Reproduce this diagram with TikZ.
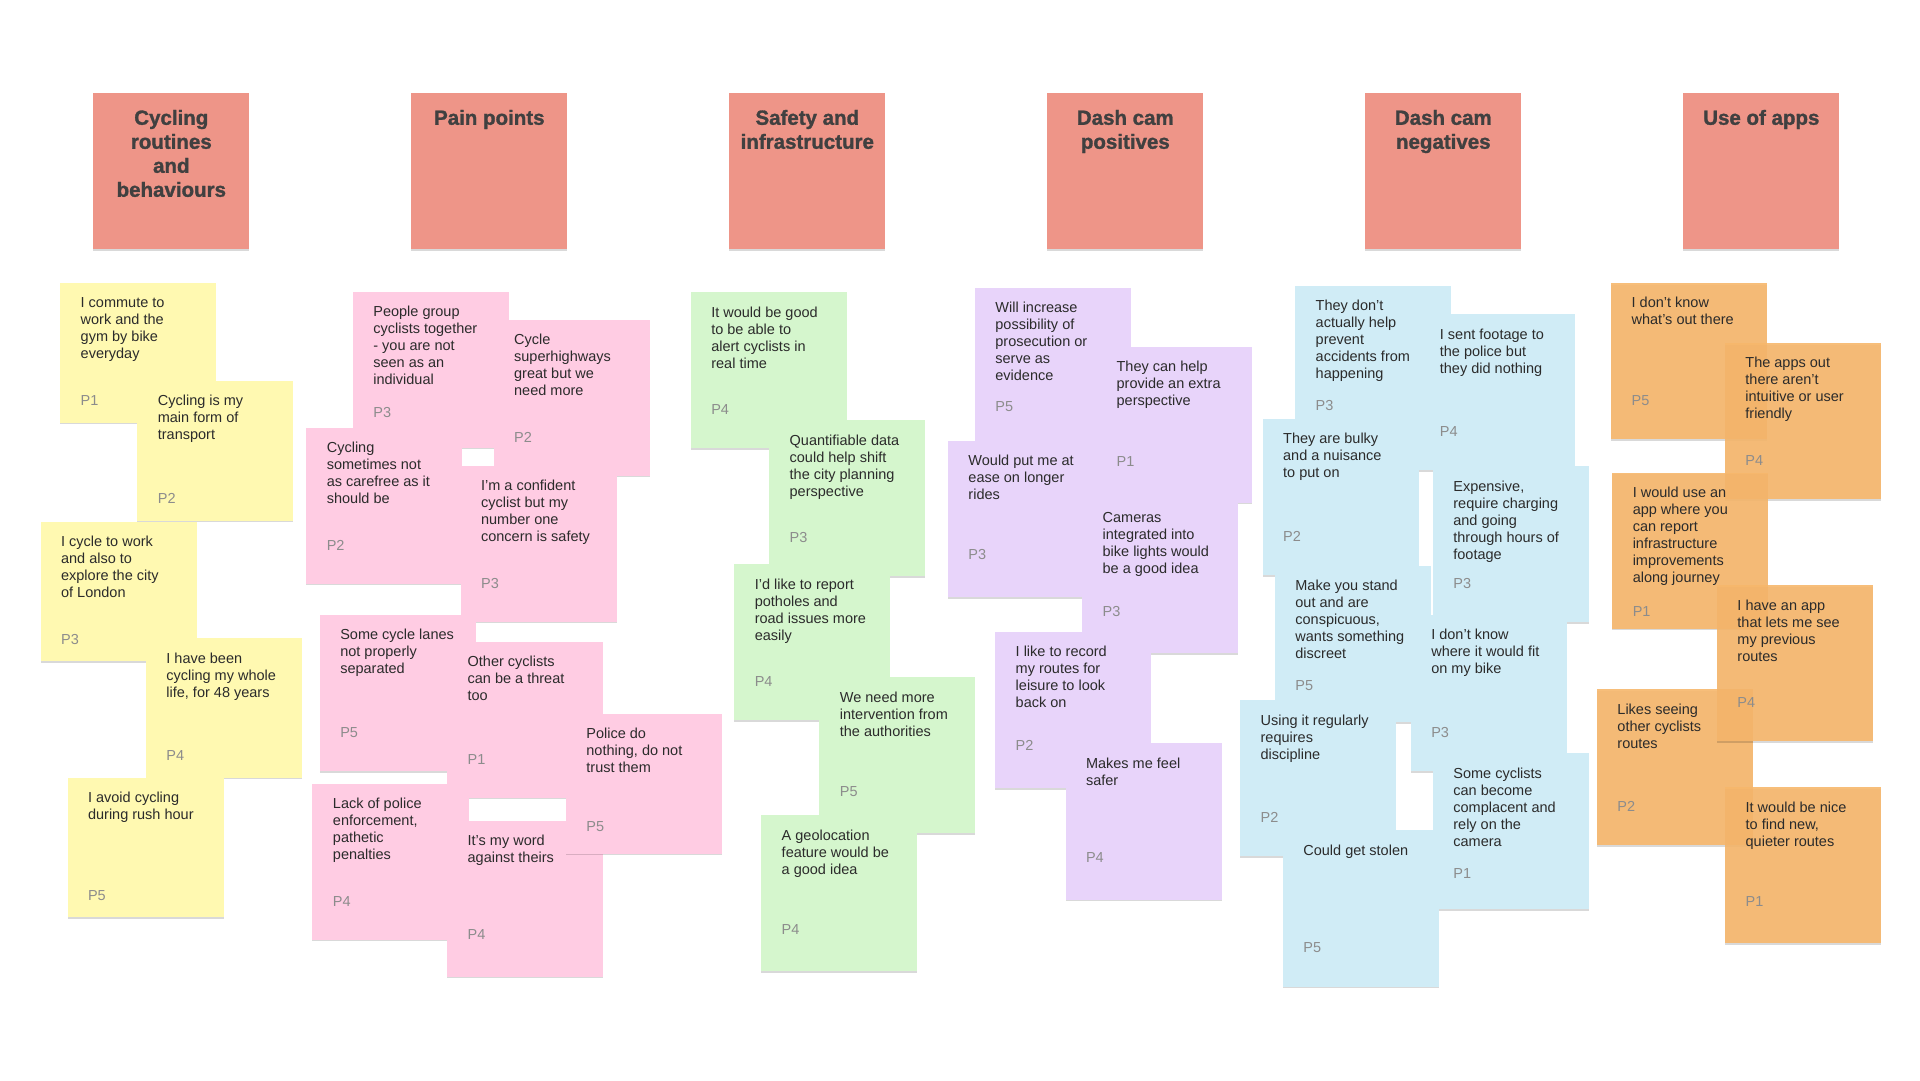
\documentclass[tikz,border=0pt]{standalone}
\usepackage{fontspec}
\setmainfont{Liberation Sans}
\newfontfamily\headfont{Liberation Sans}[UprightFont=*-Bold, UprightFeatures={FakeBold=1.4}]
\usepackage{tikz}
\usetikzlibrary{positioning, shadows}

\definecolor{headred}{HTML}{EE9588}
\definecolor{noteyellow}{HTML}{FFF9B1}
\definecolor{notepink}{HTML}{FFCCE3}
\definecolor{notegreen}{HTML}{D5F6CD}
\definecolor{notepurple}{HTML}{E8D4FA}
\definecolor{noteblue}{HTML}{D0ECF6}
\definecolor{noteorange}{HTML}{F7B76C}
\definecolor{ink}{HTML}{2B2B2B}

% one sticky: [tag offset]{name}{style}{x}{y}{text}{tag}
\newcommand{\sticky}[7][96]{%
    \node[#3] (#2) at (#4,#5) {};
    \node[notetext] (#2txt) at ([xshift=20.5pt, yshift=-13pt]#2.north west) {\strut #6};
    \node[notetag] (#2tag) at ([xshift=20.5pt, yshift={-(#1*1.2245+5.2)*1pt}]#2.north west) {#7};
}

\begin{document}
\begin{tikzpicture}[x=1.2245pt, y=-1.2245pt,
    stickybox/.style={rectangle, anchor=north west, inner sep=0pt,
        minimum width=156.1pt, minimum height=156.1pt,
        drop shadow={shadow xshift=0pt, shadow yshift=-1.5pt, opacity=0.15, fill=black}},
    shortbox/.style={minimum height=139.6pt},
    headbox/.style={stickybox, fill=headred},
    yellowsticky/.style={stickybox, shortbox, fill=noteyellow},
    pinksticky/.style={stickybox, fill=notepink},
    greensticky/.style={stickybox, fill=notegreen},
    purplesticky/.style={stickybox, fill=notepurple},
    bluesticky/.style={stickybox, fill=noteblue},
    orangesticky/.style={stickybox, fill=noteorange, fill opacity=0.9},
    headtext/.style={anchor=north, inner sep=0pt, align=center, text=ink!90,
        font=\fontsize{20.5}{24}\headfont},
    notetext/.style={anchor=north west, inner sep=0pt, align=left, text=ink,
        font=\fontsize{14.5}{17}\selectfont},
    notetag/.style={anchor=base west, inner sep=0pt, text=black!45,
        font=\fontsize{14.5}{17}\selectfont}]

    % =================================================================
    % 1. CANVAS
    % =================================================================
    \path[use as bounding box, fill=white] (0,0) rectangle (1568,882);

    % =================================================================
    % 2. COLUMN HEADERS
    % =================================================================
    \foreach \i/\ttl in {0/{Cycling\\routines\\and\\behaviours}, 1/{Pain points},
                         2/{Safety and\\infrastructure}, 3/{Dash cam\\positives},
                         4/{Dash cam\\negatives}, 5/{Use of apps}} {
        \node[headbox] (head\i) at (76+259.7*\i, 76) {};
        \node[headtext] (headtxt\i) at ([yshift=-14.7pt]head\i.north) {\strut\ttl};
    }

    % =================================================================
    % 3. CYCLING ROUTINES AND BEHAVIOURS
    % =================================================================
    \sticky{y1}{yellowsticky}{49}{231}{I commute to\\work and the\\gym by bike\\everyday}{P1}
    \sticky{y2}{yellowsticky}{112}{311}{Cycling is my\\main form of\\transport}{P2}
    \sticky{y3}{yellowsticky}{33}{426}{I cycle to work\\and also to\\explore the city\\of London}{P3}
    \sticky{y4}{yellowsticky}{119}{521}{I have been\\cycling my whole\\life, for 48 years}{P4}
    \sticky{y5}{yellowsticky}{55}{635}{I avoid cycling\\during rush hour}{P5}

    % =================================================================
    % 4. PAIN POINTS
    % =================================================================
    \sticky[99]{k1}{pinksticky}{288}{238}{People group\\cyclists together\\- you are not\\seen as an\\individual}{P3}
    \sticky{k2}{pinksticky}{403}{261}{Cycle\\superhighways\\great but we\\need more}{P2}
    \sticky{k3}{pinksticky}{250}{349}{Cycling\\sometimes not\\as carefree as it\\should be}{P2}
    \sticky{k4}{pinksticky}{376}{380}{I’m a confident\\cyclist but my\\number one\\concern is safety}{P3}
    \sticky{k5}{pinksticky}{261}{502}{Some cycle lanes\\not properly\\separated}{P5}
    \sticky{k6}{pinksticky}{365}{524}{Other cyclists\\can be a threat\\too}{P1}
    \sticky{k8}{pinksticky}{255}{640}{Lack of police\\enforcement,\\pathetic\\penalties}{P4}
    \sticky[93]{k9}{pinksticky}{365}{670}{It’s my word\\against theirs}{P4}
    \sticky[92]{k7}{pinksticky, shortbox}{462}{583}{Police do\\nothing, do not\\trust them}{P5}

    % =================================================================
    % 5. SAFETY AND INFRASTRUCTURE
    % =================================================================
    \sticky{g1}{greensticky}{564}{238.5}{It would be good\\to be able to\\alert cyclists in\\real time}{P4}
    \sticky{g2}{greensticky}{628}{343}{Quantifiable data\\could help shift\\the city planning\\perspective}{P3}
    \sticky{g3}{greensticky}{599.5}{460.6}{I’d like to report\\potholes and\\road issues more\\easily}{P4}
    \sticky[93]{g4}{greensticky}{669}{553}{We need more\\intervention from\\the authorities}{P5}
    \sticky[93]{g5}{greensticky}{621.5}{665.6}{A geolocation\\feature would be\\a good idea}{P4}

    % =================================================================
    % 6. DASH CAM POSITIVES
    % =================================================================
    \sticky[97]{v1}{purplesticky}{796}{235}{Will increase\\possibility of\\prosecution or\\serve as\\evidence}{P5}
    \sticky[94]{v2}{purplesticky}{895}{283}{They can help\\provide an extra\\perspective}{P1}
    \sticky[93]{v3}{purplesticky}{774}{360}{Would put me at\\ease on longer\\rides}{P3}
    \sticky[93]{v4}{purplesticky}{883.6}{406}{Cameras\\integrated into\\bike lights would\\be a good idea}{P3}
    \sticky[93]{v5}{purplesticky}{812.6}{516}{I like to record\\my routes for\\leisure to look\\back on}{P2}
    \sticky[93]{v6}{purplesticky}{870}{607}{Makes me feel\\safer}{P4}

    % =================================================================
    % 7. DASH CAM NEGATIVES
    % =================================================================
    \sticky[98]{b1}{bluesticky}{1057.6}{233}{They don’t\\actually help\\prevent\\accidents from\\happening}{P3}
    \sticky{b2}{bluesticky}{1159}{256.5}{I sent footage to\\the police but\\they did nothing}{P4}
    \sticky{b3}{bluesticky}{1031}{342}{They are bulky\\and a nuisance\\to put on}{P2}
    \sticky{b4}{bluesticky}{1170}{380.6}{Expensive,\\require charging\\and going\\through hours of\\footage}{P3}
    \sticky[98]{b5}{bluesticky}{1041}{462}{Make you stand\\out and are\\conspicuous,\\wants something\\discreet}{P5}
    \sticky{b6}{bluesticky}{1152}{502}{I don’t know\\where it would fit\\on my bike}{P3}
    \sticky{b7}{bluesticky}{1012.6}{571.7}{Using it regularly\\requires\\discipline}{P2}
    \sticky[98]{b8}{bluesticky}{1170}{615}{Some cyclists\\can become\\complacent and\\rely on the\\camera}{P1}
    \sticky{b9}{bluesticky}{1047.5}{678}{Could get stolen}{P5}

    % =================================================================
    % 8. USE OF APPS
    % =================================================================
    \sticky{o1}{orangesticky}{1315.6}{231}{I don’t know\\what’s out there}{P5}
    \sticky{o2}{orangesticky}{1408.5}{280}{The apps out\\there aren’t\\intuitive or user\\friendly}{P4}
    \sticky[113]{o3}{orangesticky}{1316.5}{386}{I would use an\\app where you\\can report\\infrastructure\\improvements\\along journey}{P1}
    \sticky{o5}{orangesticky}{1304}{562.7}{Likes seeing\\other cyclists\\routes}{P2}
    \sticky{o4}{orangesticky}{1402}{477.8}{I have an app\\that lets me see\\my previous\\routes}{P4}
    \sticky[93.5]{o6}{orangesticky}{1408.7}{642.7}{It would be nice\\to find new,\\quieter routes}{P1}

\end{tikzpicture}
\end{document}
